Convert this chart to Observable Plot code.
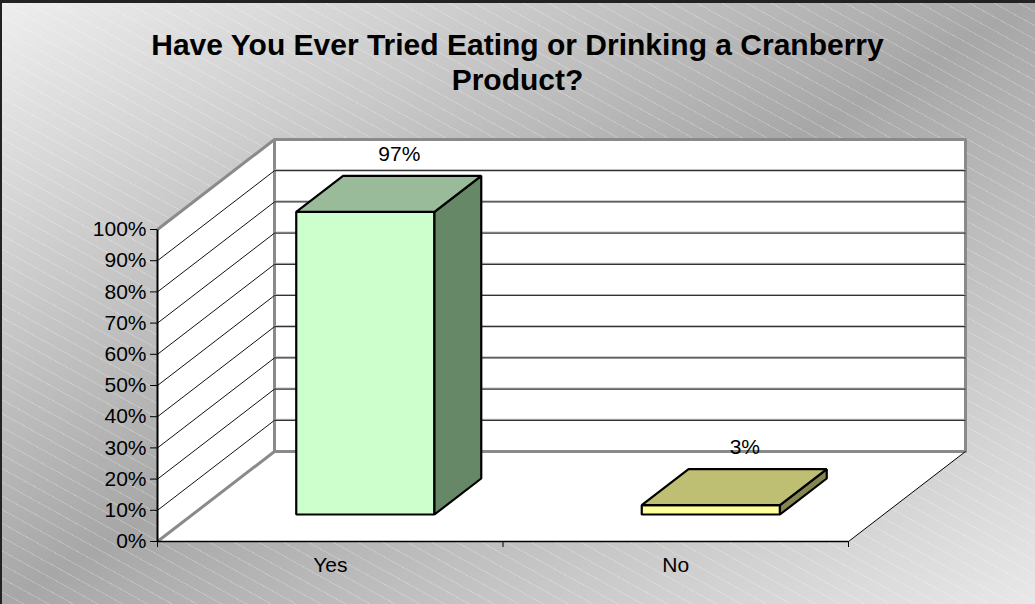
<!DOCTYPE html>
<html>
<head>
<meta charset="utf-8">
<script src="https://cdn.jsdelivr.net/npm/d3@7"></script>
<script src="https://cdn.jsdelivr.net/npm/@observablehq/plot@0.6"></script>
<style>
html, body { margin: 0; padding: 0; }
#chart {
  position: relative; width: 1035px; height: 604px; overflow: hidden;
  background:
    repeating-linear-gradient(29deg, rgba(255,255,255,0) 0px, rgba(255,255,255,0) 11px, rgba(255,255,255,0.22) 11px, rgba(255,255,255,0.22) 12px),
    linear-gradient(to bottom right, #eeeeee 0%, #a7a7a7 50%, #e8e8e8 100%);
  box-shadow: inset 2px 3px 0 #222;
}
#title {
  position: absolute; left: 0; right: 0; top: 27px; text-align: center;
  font: bold 30px "Liberation Sans", Arial, sans-serif; line-height: 35px; color: #000;
}
#plot { position: absolute; left: 0; top: 0; }
</style>
</head>
<body>
<div id="chart">
  <div id="plot"></div>
  <div id="title">Have You Ever Tried Eating or Drinking a Cranberry<br>Product?</div>
</div>
<script>
// ---- data ----
const categories = ["Yes", "No"];
const values = [0.97, 0.03];
const yTicks = [0, 0.1, 0.2, 0.3, 0.4, 0.5, 0.6, 0.7, 0.8, 0.9, 1.0];
const frontFill = ["#CCFFCC", "#FFFF99"];
const topFill = ["#99BB99", "#BFBF73"];
const sideFill = ["#668866", "#858552"];

// ---- layout ----
const W = 1035, H = 604;
const plotLeft = 157, plotRight = 965, plotTop = 139, plotBottom = 541;
const depthPx = [117, 90];
const n = categories.length;
const pxPerX = (plotRight - plotLeft - depthPx[0]) / n;
const DX = depthPx[0] / pxPerX;
const pxPerY = (plotBottom - plotTop - depthPx[1]);
const DY = depthPx[1] / pxPerY;
const halfW = 0.2, D0 = 0.3, D1 = 0.7;

const P = (c, v, d) => ({x: c + d * DX, y: v + d * DY});

// polygons
const walls = [];
function poly(arr, id, fill, pts) { pts.forEach(p => arr.push({id, fill, ...p})); }
poly(walls, "floor", "white", [P(0,0,0), P(n,0,0), P(n,0,1), P(0,0,1)]);
poly(walls, "left", "white", [P(0,0,0), P(0,1,0), P(0,1,1), P(0,0,1)]);
poly(walls, "back", "white", [P(0,0,1), P(n,0,1), P(n,1,1), P(0,1,1)]);

const bars = [];
values.forEach((v, i) => {
  const c = i + 0.5;
  poly(bars, "front" + i, frontFill[i], [P(c-halfW,0,D0), P(c+halfW,0,D0), P(c+halfW,v,D0), P(c-halfW,v,D0)]);
  poly(bars, "side" + i, sideFill[i], [P(c+halfW,0,D0), P(c+halfW,0,D1), P(c+halfW,v,D1), P(c+halfW,v,D0)]);
  poly(bars, "top" + i, topFill[i], [P(c-halfW,v,D0), P(c+halfW,v,D0), P(c+halfW,v,D1), P(c-halfW,v,D1)]);
});

const inner = yTicks.filter(t => t > 0 && t < 1);
const seg = (a, b) => ({x1: a.x, y1: a.y, x2: b.x, y2: b.y});
const leftGrid = inner.map(t => seg(P(0,t,0), P(0,t,1)));
const backGrid = inner.map(t => seg(P(0,t,1), P(n,t,1)));
const leftEdges = [seg(P(0,1,0), P(0,1,1)), seg(P(0,0,0), P(0,0,1))];
const L = {x1: "x1", y1: "y1", x2: "x2", y2: "y2"};

const chart = Plot.plot({
  width: W, height: H,
  marginLeft: plotLeft, marginRight: W - plotRight, marginTop: plotTop, marginBottom: H - plotBottom,
  x: {domain: [0, n + DX], axis: null},
  y: {domain: [0, 1 + DY]},
  color: {type: "identity"},
  style: {background: "transparent", overflow: "visible", fontFamily: "'Liberation Sans', Arial, sans-serif"},
  marks: [
    Plot.line(walls, {x: "x", y: "y", z: "id", fill: "fill", stroke: "none", curve: "linear-closed"}),
    Plot.line(walls.filter(d => d.id === "back"), {x: "x", y: "y", z: "id", fill: "none", stroke: "#8a8a8a", strokeWidth: 3, curve: "linear-closed"}),
    Plot.link(leftEdges, {...L, stroke: "#8a8a8a", strokeWidth: 3}),
    Plot.link(backGrid, {...L, stroke: "#b0b0b0", strokeWidth: 1, dy: -1}),
    Plot.link(backGrid, {...L, stroke: "#333", strokeWidth: 1.2}),
    Plot.link(leftGrid, {...L, stroke: "#111", strokeWidth: 1}),
    Plot.link([seg(P(0,0,0), P(n,0,0))], {...L, stroke: "#000", strokeWidth: 1.5}),
    Plot.link([seg(P(n,0,0), P(n,0,1))], {...L, stroke: "#000", strokeWidth: 1}),
    Plot.link([seg(P(0,0,0), P(0,1,0))], {...L, stroke: "#000", strokeWidth: 2}),
    Plot.ruleX(d3.range(n + 1), {x: d => d, y1: 0, y2: -6 / pxPerY, stroke: "#000", strokeWidth: 1}),
    Plot.axisY(yTicks, {tickFormat: d3.format(".0%"), tickSize: 7, tickPadding: 4, fontSize: 21, label: null, stroke: "#000", fill: "#000"}),
    Plot.line(bars, {x: "x", y: "y", z: "id", fill: "fill", stroke: "#000", strokeWidth: 2.2, strokeLinejoin: "miter", curve: "linear-closed"}),
    Plot.text(categories, {x: (d, i) => i + 0.5, y: 0, text: d => d, dy: 24, fontSize: 21, fill: "#000"}),
    Plot.text(values, {x: (d, i) => i + 0.5 + 0.2, y: d => d + DY - 0.016, text: d => d3.format(".0%")(d), fontSize: 21, fill: "#000"})
  ]
});
document.getElementById("plot").appendChild(chart);
</script>
</body>
</html>
